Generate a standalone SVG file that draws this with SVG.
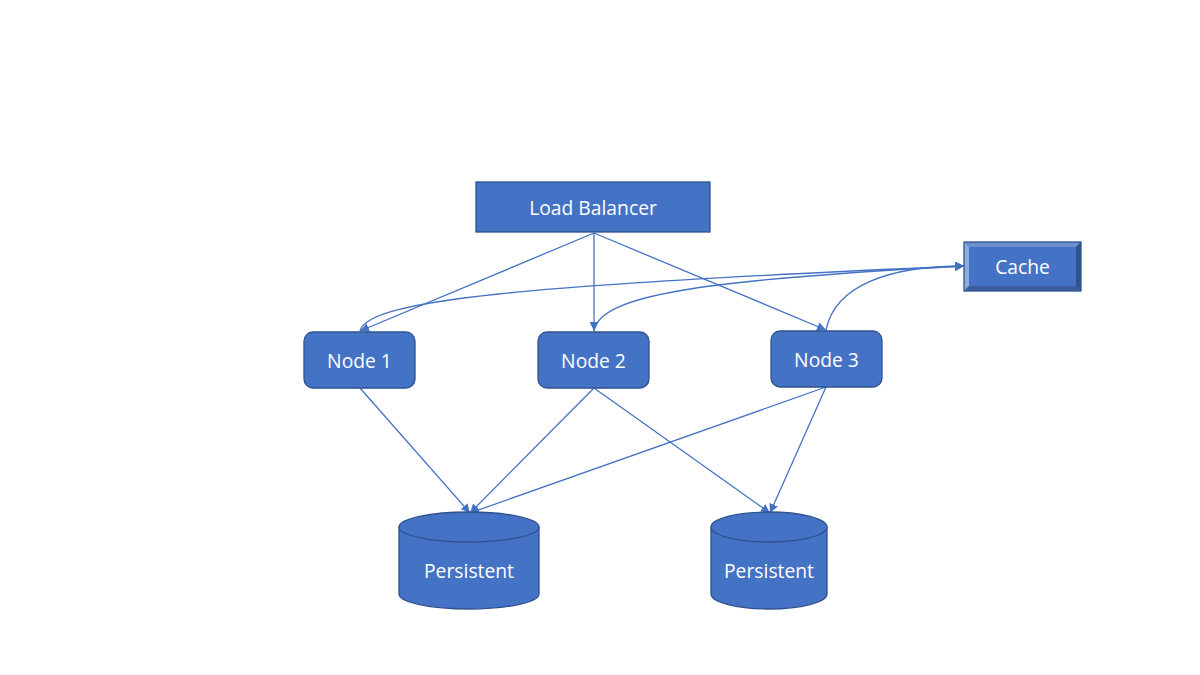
<svg xmlns="http://www.w3.org/2000/svg" width="1200" height="675" viewBox="0 0 1200 675">
<style>
.box{fill:#4472C4;stroke:#2F528F;stroke-width:1.3}
.lbl{font-family:"Open Sans","Liberation Sans",sans-serif;font-size:19.3px;fill:#fff;text-anchor:middle;dominant-baseline:central}
.c{fill:none;stroke:#4472C4;stroke-width:1.3}
</style>
<defs>
<marker id="a" viewBox="0 0 10 10" refX="10" refY="5" markerWidth="9" markerHeight="9" markerUnits="userSpaceOnUse" orient="auto">
<path d="M0,0 L10,5 L0,10 z" fill="#4472C4"/>
</marker>
</defs>
<rect width="1200" height="675" fill="#fff"/>
<g id="connectors">
<line class="c" x1="594" y1="233" x2="360" y2="331" marker-end="url(#a)"/>
<line class="c" x1="594" y1="233" x2="594" y2="331" marker-end="url(#a)"/>
<line class="c" x1="594" y1="233" x2="826" y2="330" marker-end="url(#a)"/>
<path class="c" d="M360,331 C368,300 520,285 964,266" marker-end="url(#a)"/>
<path class="c" d="M594,331 C600,295 700,280 964,266" marker-end="url(#a)"/>
<path class="c" d="M826,330 C835,285 890,266 964,266" marker-end="url(#a)"/>
<line class="c" x1="360" y1="388" x2="470" y2="513" marker-end="url(#a)"/>
<line class="c" x1="594" y1="388" x2="470" y2="513" marker-end="url(#a)"/>
<line class="c" x1="594" y1="388" x2="770" y2="513" marker-end="url(#a)"/>
<line class="c" x1="826" y1="387" x2="470" y2="513" marker-end="url(#a)"/>
<line class="c" x1="826" y1="387" x2="770" y2="513" marker-end="url(#a)"/>
</g>
<g id="lb">
<rect class="box" x="476" y="182" width="234" height="50"/>
<text class="lbl" x="593" y="207">Load Balancer</text>
</g>
<g id="node1">
<rect class="box" x="304" y="332" width="111" height="56" rx="9"/>
<text class="lbl" x="359.5" y="360">Node 1</text>
</g>
<g id="node2">
<rect class="box" x="538" y="332" width="111" height="56" rx="9"/>
<text class="lbl" x="593.5" y="360">Node 2</text>
</g>
<g id="node3">
<rect class="box" x="771" y="331" width="111" height="56" rx="9"/>
<text class="lbl" x="826.5" y="359">Node 3</text>
</g>
<g id="cache">
<rect x="964" y="242" width="117" height="49" fill="#4472C4"/>
<polygon points="964,242 1081,242 1076,247 969,247" fill="#6D8FD0"/>
<polygon points="964,242 969,247 969,286 964,291" fill="#8FAADC"/>
<polygon points="964,291 969,286 1076,286 1081,291" fill="#3A5E9E"/>
<polygon points="1081,242 1076,247 1076,286 1081,291" fill="#2F528F"/>
<rect x="964" y="242" width="117" height="49" fill="none" stroke="#2F528F" stroke-width="1.3"/>
<text class="lbl" x="1022.5" y="266.5">Cache</text>
</g>
<g id="persist1">
<path class="box" d="M399,527 A70,15 0 0 1 539,527 L539,594 A70,15 0 0 1 399,594 Z"/>
<path fill="none" stroke="#2F528F" stroke-width="1.3" d="M399,527 A70,15 0 0 0 539,527"/>
<text class="lbl" x="469" y="570">Persistent</text>
</g>
<g id="persist2">
<path class="box" d="M711,527 A58,15 0 0 1 827,527 L827,594 A58,15 0 0 1 711,594 Z"/>
<path fill="none" stroke="#2F528F" stroke-width="1.3" d="M711,527 A58,15 0 0 0 827,527"/>
<text class="lbl" x="769" y="570">Persistent</text>
</g>
</svg>
